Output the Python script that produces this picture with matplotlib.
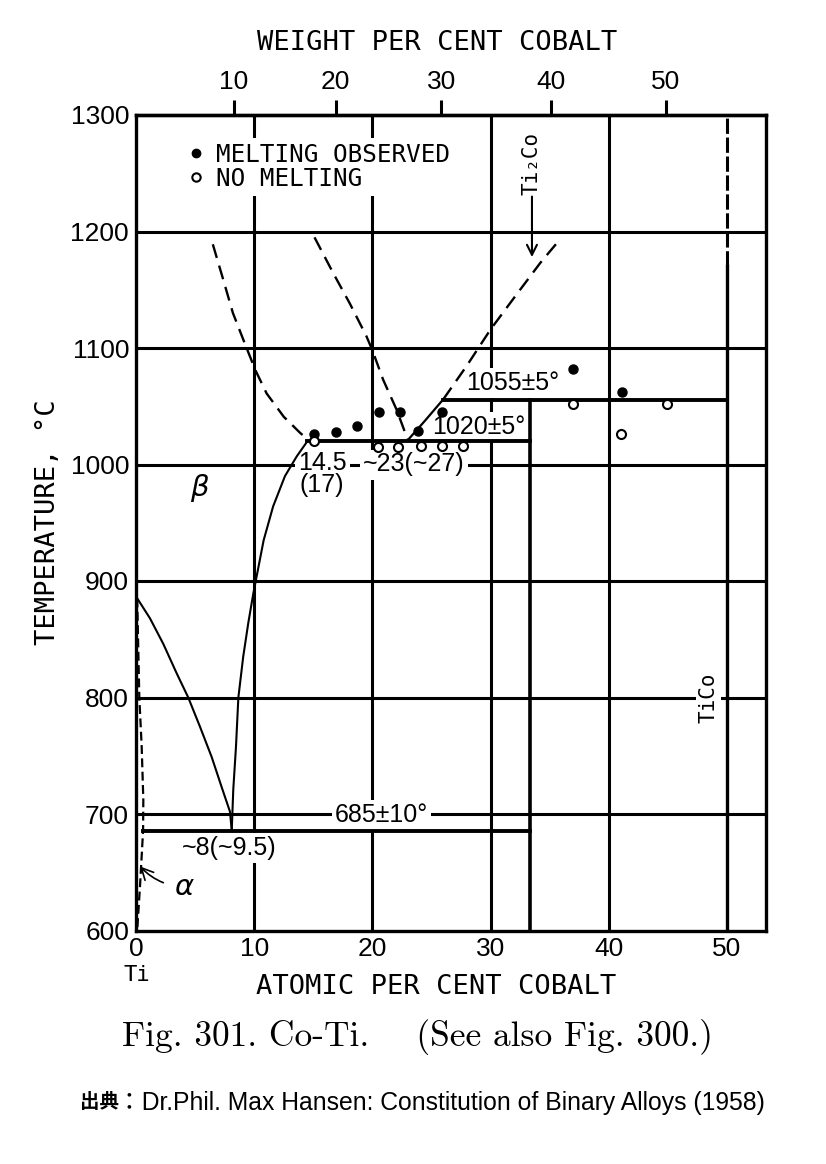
import matplotlib
matplotlib.use("Agg")
import matplotlib.pyplot as plt
import numpy as np
from matplotlib.lines import Line2D

# atomic per cent Co / temperature in deg C
liq_left_x = [6.5, 7.4, 8.2, 9.2, 10.1, 11.05, 12.5, 13.9, 14.6]
liq_left_t = [1189, 1158, 1130, 1104, 1081, 1061, 1041, 1027, 1021]

liq_mid_x = [15.1, 16.7, 18.1, 19.5, 20.0, 20.9, 22.05, 23.0]
liq_mid_t = [1195, 1164, 1138, 1110, 1098, 1073, 1047, 1021]

liq_ti2co_solid_x = [23.0, 24.4, 26.0]
liq_ti2co_solid_t = [1021, 1037, 1056]
liq_ti2co_dash_x = [26.0, 28.0, 30.0, 32.2, 34.2, 35.6]
liq_ti2co_dash_t = [1056, 1085, 1116, 1146, 1173, 1190]

beta_solvus_x = [8.1, 8.23, 8.46, 8.66, 9.07, 9.5, 9.92, 10.8, 11.6, 12.6, 13.6, 14.5]
beta_solvus_t = [686, 721, 758, 800, 835, 864, 889, 935, 964, 990, 1007, 1020]

beta_transus_x = [0.11, 1.18, 2.31, 3.43, 4.42, 5.41, 6.4, 7.25, 7.95, 8.1]
beta_transus_t = [885, 868, 846, 821, 800, 775, 749, 723, 702, 686]

alpha_solvus_x = [0.1, 0.28, 0.48, 0.62, 0.6, 0.35, 0.1]
alpha_solvus_t = [885, 800, 758, 712, 686, 640, 600]

eutectoid_t = 685
eutectoid_x = [0.6, 33.3]
eutectic_t = 1020
eutectic_x = [14.5, 33.3]
peritectic_t = 1055
peritectic_x = [26.0, 50.0]
ti2co_x = 33.3
ti2co_t = [600, 1055]
tico_x = 50.0
tico_solid_t = [600, 1170]
tico_dash_t = [1170, 1300]

melt_x = [15.1, 16.9, 18.7, 20.6, 22.3, 23.9, 25.9, 37.0, 41.1]
melt_t = [1026, 1028, 1033, 1045, 1045, 1029, 1045, 1082, 1062]
nomelt_x = [15.1, 20.5, 22.2, 24.1, 25.9, 27.7, 37.0, 41.0, 44.9]
nomelt_t = [1020, 1015, 1015, 1016, 1016, 1016, 1052, 1026, 1052]

x_ticks = [0, 10, 20, 30, 40, 50]
y_ticks = [600, 700, 800, 900, 1000, 1100, 1200, 1300]
wt_ticks = [10, 20, 30, 40, 50]
grid_x = [10, 20, 30, 40]
grid_y = [700, 800, 900, 1000, 1100, 1200]

M_CO, M_TI = 58.93, 47.87


def at_to_wt(a):
    a = np.asarray(a, dtype=float)
    return 100 * a * M_CO / (a * M_CO + (100 - a) * M_TI)


def wt_to_at(w):
    w = np.asarray(w, dtype=float)
    return 100 * (w / M_CO) / (w / M_CO + (100 - w) / M_TI)


NUM = "Liberation Sans"
LET = "DejaVu Sans Mono"
W, H = 826, 1164

fig = plt.figure(figsize=(W / 100, H / 100), dpi=100)
ax = fig.add_axes([136 / W, 1 - 930.5 / H, 630 / W, 815.5 / H])
ax.set_xlim(0, 53.3)
ax.set_ylim(600, 1300)

for s in ax.spines.values():
    s.set_linewidth(2.4)

for gx in grid_x:
    ax.axvline(gx, color="black", lw=2.2, zorder=1)
for gy in grid_y:
    ax.axhline(gy, color="black", lw=2.2, zorder=1)

ax.set_xticks(x_ticks)
ax.set_yticks(y_ticks)
ax.tick_params(axis="both", length=0, labelsize=19)
ax.tick_params(axis="x", pad=5)
ax.tick_params(axis="y", pad=5)
for lab in ax.get_xticklabels() + ax.get_yticklabels():
    lab.set_family(NUM)

top = ax.secondary_xaxis("top", functions=(at_to_wt, wt_to_at))
top.set_xticks(wt_ticks)
top.tick_params(direction="out", length=11, width=2.2, labelsize=19, pad=4)
top.spines["top"].set_linewidth(2.4)
for lab in top.get_xticklabels():
    lab.set_family(NUM)

# phase boundaries
dash = (0, (6, 3.4))
ax.plot(liq_left_x, liq_left_t, color="black", lw=1.7, ls=dash, zorder=4)
ax.plot(liq_mid_x, liq_mid_t, color="black", lw=1.7, ls=dash, zorder=4)
ax.plot(liq_ti2co_dash_x, liq_ti2co_dash_t, color="black", lw=1.7, ls=dash, zorder=4)
ax.plot(liq_ti2co_solid_x, liq_ti2co_solid_t, color="black", lw=1.6, zorder=4)
ax.plot(beta_solvus_x, beta_solvus_t, color="black", lw=1.5, zorder=4)
ax.plot(beta_transus_x, beta_transus_t, color="black", lw=1.5, zorder=4)
ax.plot(alpha_solvus_x, alpha_solvus_t, color="black", lw=1.6, ls=(0, (4, 2)), zorder=4)

ax.plot(eutectoid_x, [eutectoid_t] * 2, color="black", lw=2.8, zorder=4)
ax.plot(eutectic_x, [eutectic_t] * 2, color="black", lw=2.8, zorder=4)
ax.plot(peritectic_x, [peritectic_t] * 2, color="black", lw=2.8, zorder=4)
ax.plot([ti2co_x] * 2, ti2co_t, color="black", lw=2.6, zorder=4)
ax.plot([tico_x] * 2, tico_solid_t, color="black", lw=2.4, zorder=4)
ax.plot([tico_x] * 2, tico_dash_t, color="black", lw=2.2, ls=(0, (5, 1.2)), zorder=4)

ax.plot(melt_x, melt_t, "o", ms=6.5, color="black", mec="black", zorder=6)
ax.plot(nomelt_x, nomelt_t, "o", ms=6.5, mfc="white", mec="black", mew=1.5, zorder=6)

handles = [
    Line2D([], [], ls="none", marker="o", ms=6, color="black"),
    Line2D([], [], ls="none", marker="o", ms=6, mfc="white", mec="black", mew=1.5),
]
leg = ax.legend(handles, ["MELTING OBSERVED", "NO MELTING"], loc="upper left",
                bbox_to_anchor=(0.0762, 0.972), borderaxespad=0, borderpad=0.2,
                handlelength=0.6, handletextpad=0.5, labelspacing=0.0,
                prop={"family": LET, "size": 17.5}, frameon=True, fancybox=False)
leg.get_frame().set_edgecolor("none")
leg.get_frame().set_facecolor("white")
leg.get_frame().set_alpha(1)
leg.set_zorder(2)

wb = dict(boxstyle="square,pad=0.12", fc="white", ec="none")
lab_kw = dict(family=NUM, size=18, ha="center", va="center", zorder=2, bbox=wb)
ax.text(31.9, 1070, "1055±5°", **lab_kw)
ax.text(29.0, 1032, "1020±5°", **lab_kw)
ax.text(15.8, 1001, "14.5", **lab_kw)
ax.text(15.7, 982, "(17)", **lab_kw)
ax.text(23.5, 1000, "~23(~27)", **lab_kw)
ax.text(20.8, 699, "685±10°", **lab_kw)
ax.text(7.9, 671, "~8(~9.5)", **lab_kw)

ax.text(5.4, 980, r"$\beta$", size=21, ha="center", va="center")
ax.annotate(r"$\alpha$", xy=(0.35, 655), xytext=(4.1, 637), size=21,
            ha="center", va="center",
            arrowprops=dict(arrowstyle="->", lw=1.2, color="black",
                            connectionstyle="arc3,rad=-0.2", shrinkA=6, shrinkB=0))

ax.annotate("", xy=(33.5, 1178), xytext=(33.5, 1230),
            arrowprops=dict(arrowstyle="->", lw=1.5, color="black",
                            mutation_scale=18, shrinkA=0, shrinkB=0))
ax.text(33.5, 1258, "Ti₂Co", family=LET, size=15, rotation=90,
        ha="center", va="center")
ax.text(48.4, 800, "TiCo", family=LET, size=15, rotation=90,
        ha="center", va="center", zorder=2, bbox=wb)
ax.text(0.1, 562, "Ti", family=LET, size=16, ha="center", va="center",
        clip_on=False)

fig.text(437 / W, 1 - 43 / H, "WEIGHT PER CENT COBALT", family=LET, size=19.5,
         ha="center", va="center")
fig.text(436 / W, 1 - 987 / H, "ATOMIC PER CENT COBALT", family=LET, size=19.5,
         ha="center", va="center")
fig.text(48 / W, 1 - 522 / H, "TEMPERATURE, °C", family=LET, size=19.5,
         rotation=90, ha="center", va="center")

fig.text(417 / W, 1 - 1037 / H, "Fig. 301. Co-Ti.    (See also Fig. 300.)",
         family=["cmr10", "DejaVu Serif"], size=25.5, ha="center", va="center")
fig.text(80 / W, 1 - 1103 / H, "出典", family="Noto Sans CJK JP", weight="bold",
         size=14, ha="left", va="center")
fig.text(117 / W, 1 - 1103 / H,
         "：Dr.Phil. Max Hansen: Constitution of Binary Alloys (1958)",
         family=["Liberation Sans", "Noto Sans CJK JP"], size=17.8,
         ha="left", va="center")

fig.savefig("out.png", dpi=100)
